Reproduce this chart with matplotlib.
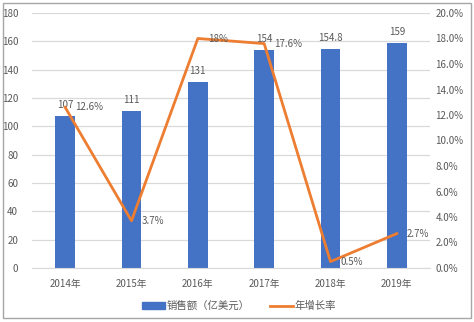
import matplotlib
matplotlib.use("Agg")
import matplotlib.pyplot as plt
from matplotlib.patches import Rectangle
from matplotlib.lines import Line2D

plt.rcParams['font.family'] = ['Noto Sans CJK SC', 'DejaVu Sans']

years = ['2014年', '2015年', '2016年', '2017年', '2018年', '2019年']
sales = [107, 111, 131, 154, 154.8, 159]
sales_labels = ['107', '111', '131', '154', '154.8', '159']
growth = [12.6, 3.7, 18.0, 17.6, 0.5, 2.7]
growth_labels = ['12.6%', '3.7%', '18%', '17.6%', '0.5%', '2.7%']
left_ticks = [0, 20, 40, 60, 80, 100, 120, 140, 160, 180]
right_ticks = [0, 2, 4, 6, 8, 10, 12, 14, 16, 18, 20]

BAR = '#4472C4'
LINE = '#ED7D31'
GRID = '#D9D9D9'
TXT = '#595959'

W, H = 474, 322
fig = plt.figure(figsize=(W / 100, H / 100), dpi=100)

# outer frame
fig.patches.append(Rectangle((3 / W, 4 / H), 468 / W, 315 / H, transform=fig.transFigure,
                             fill=False, edgecolor='#A6A6A6', linewidth=1.0))

ax = fig.add_axes([32 / W, (H - 268) / H, 398 / W, 255 / H])
x = list(range(len(years)))
ax.bar(x, sales, width=0.3, color=BAR, zorder=2)
ax.set_xlim(-0.5, len(years) - 0.5)
ax.set_ylim(0, 180)
ax.set_yticks(left_ticks)
ax.set_yticklabels([str(t) for t in left_ticks])
ax.set_xticks(x)
ax.set_xticklabels(years)
ax.grid(axis='y', color=GRID, linewidth=0.9, zorder=0)
for s in ['top', 'right', 'left']:
    ax.spines[s].set_visible(False)
ax.spines['bottom'].set_color(GRID)
ax.tick_params(axis='both', length=0, colors=TXT, labelsize=7)
ax.tick_params(axis='x', pad=8)
ax.tick_params(axis='y', pad=10)

for xi, v, lab in zip(x, sales, sales_labels):
    ax.annotate(lab, (xi, v), xytext=(0, 11), textcoords='offset pixels',
                ha='center', va='center', fontsize=7, color=TXT, zorder=5)

ax2 = ax.twinx()
ax2.plot(x, growth, color=LINE, linewidth=2.0, zorder=3)
ax2.set_ylim(0, 20)
ax2.set_yticks(right_ticks)
ax2.set_yticklabels([f'{t:.1f}%' for t in right_ticks])
for s in ['top', 'right', 'left', 'bottom']:
    ax2.spines[s].set_visible(False)
ax2.tick_params(axis='y', length=0, colors=TXT, labelsize=7, pad=4)

for xi, v, lab in zip(x, growth, growth_labels):
    ax2.annotate(lab, (xi, v), xytext=(10, 0), textcoords='offset pixels',
                 ha='left', va='center', fontsize=7, color=TXT, zorder=5)

handles = [Rectangle((0, 0), 1, 1, color=BAR),
           Line2D([0], [0], color=LINE, linewidth=2.0)]
fig.legend(handles, ['销售额（亿美元）', '年增长率'], loc='center',
           bbox_to_anchor=(239 / W, (H - 306) / H), ncol=2, frameon=False,
           fontsize=7.5, labelcolor=TXT, handlelength=2.2, handleheight=0.55,
           columnspacing=1.9, handletextpad=0.2)

fig.savefig('out.png', dpi=100)
